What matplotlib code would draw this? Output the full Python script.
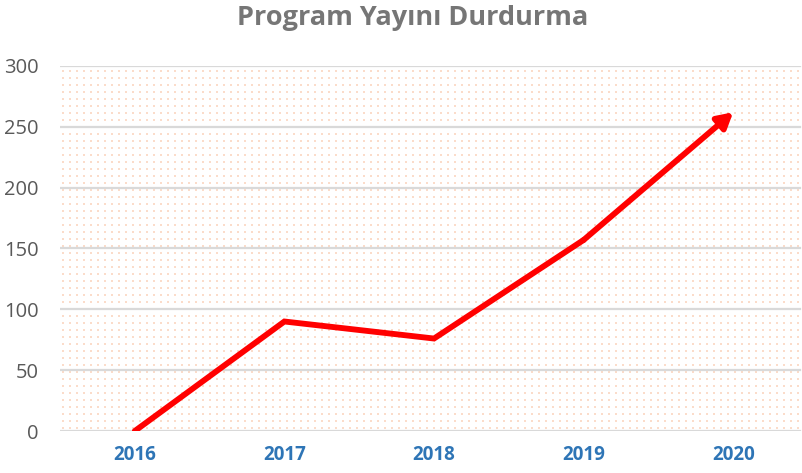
import matplotlib
matplotlib.use("Agg")
import matplotlib.pyplot as plt
import numpy as np

years = ["2016", "2017", "2018", "2019", "2020"]
values = [0, 90, 76, 157, 262]
yticks = [0, 50, 100, 150, 200, 250, 300]

fig = plt.figure(figsize=(8.02, 4.73), dpi=100)
ax = fig.add_axes([60/802, 42/473, 748/802, 365/473])

ax.set_xlim(-0.5, 4.5)
ax.set_ylim(0, 300)

# background dot pattern (decoration)
gx = np.arange(3, 742, 7) / 748
gy = np.arange(3, 365, 7) / 365
GX, GY = np.meshgrid(gx, gy)
ax.scatter(GX.ravel(), GY.ravel(), s=1.6, marker='s', color='#fbdcca', lw=0,
           transform=ax.transAxes, zorder=0.5, clip_on=True)

for y in yticks:
    ax.plot([0, 740/748], [y, y], transform=ax.get_yaxis_transform(),
            color='#d9d9d9', lw=1.6, zorder=1)

x = list(range(len(years)))
ax.plot(x[:-1], values[:-1], color='#ff0000', lw=4.2, solid_capstyle='round',
        solid_joinstyle='miter', zorder=3)
ax.annotate('', xy=(x[-1], values[-1]), xytext=(x[-2], values[-2]),
            arrowprops=dict(arrowstyle='-|>,head_length=0.5,head_width=0.28', color='#ff0000',
                            lw=4.2, shrinkA=0, shrinkB=0, mutation_scale=18),
            zorder=4)

for s in ax.spines.values():
    s.set_visible(False)

ax.set_xticks(x)
ax.set_xticklabels(years, fontsize=13.5, fontweight='bold', color='#2e75b6', family='Open Sans')
ax.set_yticks(yticks)
ax.set_yticklabels([str(v) for v in yticks], fontsize=14.5, color='#595959', family='Open Sans')
ax.tick_params(axis='both', length=0)
ax.tick_params(axis='x', pad=10)
ax.tick_params(axis='y', pad=15.5)

fig.text(413/802, 1 - 18/473, "Program Yayını Durdurma", ha='center', va='center',
         fontsize=19.5, fontweight='bold', color='#767676', family='Open Sans')

fig.savefig("out.png", dpi=100)
